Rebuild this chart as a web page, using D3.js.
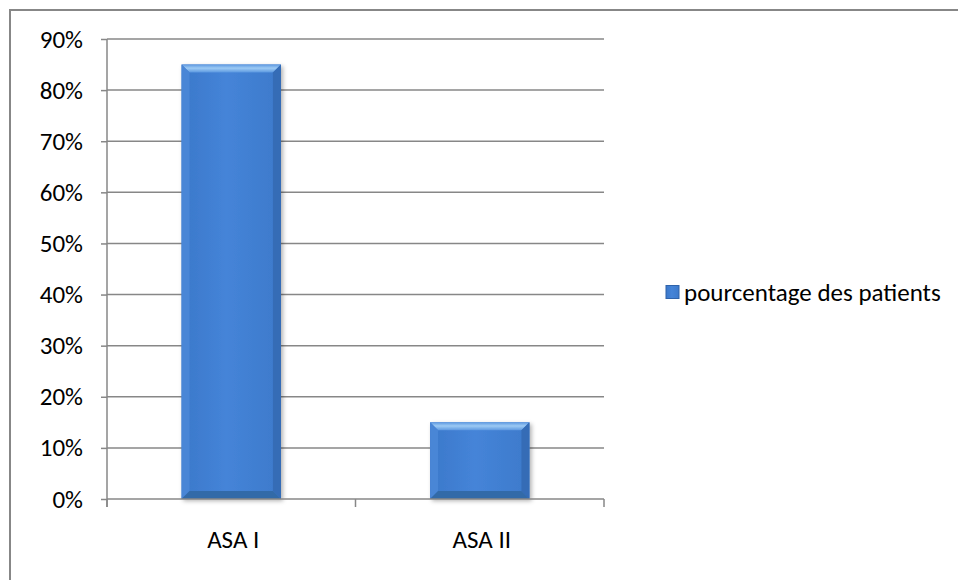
<!DOCTYPE html>
<html>
<head>
<meta charset="utf-8">
<script src="https://d3js.org/d3.v7.min.js"></script>
<style>
  body { margin: 0; background: #fff; }
  svg { display: block; font-family: Carlito, Calibri, "Open Sans", sans-serif; }
  .tick-label { font-size: 25px; fill: #000; font-family: Carlito, Calibri, "Open Sans", sans-serif; }
</style>
</head>
<body>
<svg id="chart" width="958" height="580"></svg>
<script>
  // data
  var categories = ["ASA I", "ASA II"];
  var values = [0.85, 0.15];
  var seriesName = "pourcentage des patients";
  var yTicks = [0, 0.1, 0.2, 0.3, 0.4, 0.5, 0.6, 0.7, 0.8, 0.9];

  var svg = d3.select("#chart");
  var plot = {left: 107, right: 604, top: 39, bottom: 499};
  var gridColor = "#878787";

  // outer chart border (right/bottom edges fall off the picture)
  svg.append("rect")
      .attr("x", 10).attr("y", 10)
      .attr("width", 960).attr("height", 600)
      .attr("fill", "none")
      .attr("stroke", "#878787")
      .attr("stroke-width", 2);

  var x = d3.scaleBand()
      .domain(categories)
      .range([plot.left, plot.right])
      .paddingInner(0.6)
      .paddingOuter(0.3);

  var y = d3.scaleLinear()
      .domain([0, 0.9])
      .range([plot.bottom, plot.top]);

  var fmt = d3.format(".0%");

  // gridlines
  svg.selectAll(".grid")
      .data(yTicks.filter(function(d) { return d > 0; }))
    .enter().append("line")
      .attr("class", "grid")
      .attr("x1", plot.left).attr("x2", plot.right)
      .attr("y1", function(d) { return y(d); })
      .attr("y2", function(d) { return y(d); })
      .attr("stroke", gridColor)
      .attr("stroke-width", 1.5);

  // y axis
  var yAxis = svg.append("g")
      .attr("transform", "translate(" + plot.left + ",0)")
      .call(d3.axisLeft(y).tickValues(yTicks).tickFormat(fmt).tickSize(6).tickPadding(18));
  yAxis.attr("font-family", null).attr("font-size", null);
  yAxis.select(".domain").attr("stroke", gridColor).attr("stroke-width", 1.5)
      .attr("d", "M0," + plot.top + "V" + (plot.bottom + 8));
  yAxis.selectAll(".tick line").attr("stroke", gridColor).attr("stroke-width", 1.5);
  yAxis.selectAll(".tick text").attr("class", "tick-label").attr("fill", "#000");

  // bar gradients
  var defs = svg.append("defs");
  var face = defs.append("linearGradient").attr("id", "face")
      .attr("x1", 0).attr("x2", 1).attr("y1", 0).attr("y2", 0);
  face.append("stop").attr("offset", "0%").attr("stop-color", "#3b78ca");
  face.append("stop").attr("offset", "45%").attr("stop-color", "#4584d8");
  face.append("stop").attr("offset", "100%").attr("stop-color", "#3d7acb");
  var topG = defs.append("linearGradient").attr("id", "topbev")
      .attr("x1", 0).attr("x2", 0).attr("y1", 0).attr("y2", 1);
  topG.append("stop").attr("offset", "0%").attr("stop-color", "#5d98e0");
  topG.append("stop").attr("offset", "45%").attr("stop-color", "#9ccaf4");
  topG.append("stop").attr("offset", "100%").attr("stop-color", "#5b97e0");
  var shadow = defs.append("filter").attr("id", "shadow")
      .attr("x", "-10%").attr("y", "-10%").attr("width", "130%").attr("height", "130%");
  shadow.append("feDropShadow").attr("dx", 2).attr("dy", 2).attr("stdDeviation", 2)
      .attr("flood-color", "#000").attr("flood-opacity", 0.3);

  var bev = 8;
  var bars = svg.selectAll(".bar")
      .data(categories.map(function(c, i) { return {cat: c, v: values[i]}; }))
    .enter().append("g")
      .attr("class", "bar")
      .attr("filter", "url(#shadow)");

  function pts(d) {
    var x0 = x(d.cat), x1 = x0 + x.bandwidth(), y0 = y(d.v), y1 = y(0);
    return {x0: x0, x1: x1, y0: y0, y1: y1};
  }

  bars.append("rect")
      .attr("x", function(d) { return pts(d).x0; })
      .attr("y", function(d) { return pts(d).y0; })
      .attr("width", x.bandwidth())
      .attr("height", function(d) { return pts(d).y1 - pts(d).y0; })
      .attr("fill", "url(#face)");

  // bevel edges: top, left, right, bottom
  var edges = [
    {fill: "url(#topbev)", f: function(p) { return [[p.x0, p.y0], [p.x1, p.y0], [p.x1 - bev, p.y0 + bev], [p.x0 + bev, p.y0 + bev]]; }},
    {fill: "#4a86d6", f: function(p) { return [[p.x0, p.y0], [p.x0 + bev, p.y0 + bev], [p.x0 + bev, p.y1 - bev], [p.x0, p.y1]]; }},
    {fill: "#346cb6", f: function(p) { return [[p.x1, p.y0], [p.x1, p.y1], [p.x1 - bev, p.y1 - bev], [p.x1 - bev, p.y0 + bev]]; }},
    {fill: "#336aa8", f: function(p) { return [[p.x0, p.y1], [p.x0 + bev, p.y1 - bev], [p.x1 - bev, p.y1 - bev], [p.x1, p.y1]]; }}
  ];
  edges.forEach(function(e) {
    bars.append("polygon")
        .attr("points", function(d) { return e.f(pts(d)).join(" "); })
        .attr("fill", e.fill);
  });

  // x axis
  svg.append("line")
      .attr("x1", plot.left).attr("x2", plot.right)
      .attr("y1", y(0)).attr("y2", y(0))
      .attr("stroke", gridColor).attr("stroke-width", 1.5);
  var bounds = d3.range(categories.length + 1).map(function(i) { return plot.left + i * x.step(); });
  svg.selectAll(".xtick")
      .data(bounds)
    .enter().append("line")
      .attr("x1", function(d) { return d; }).attr("x2", function(d) { return d; })
      .attr("y1", y(0)).attr("y2", y(0) + 8)
      .attr("stroke", gridColor).attr("stroke-width", 1.5);
  svg.selectAll(".xlabel")
      .data(categories)
    .enter().append("text")
      .attr("class", "tick-label")
      .attr("x", function(d) { return x(d) + x.bandwidth() / 2 + 2; })
      .attr("y", 548)
      .attr("text-anchor", "middle")
      .text(function(d) { return d; });

  // legend
  var lg = svg.append("g").attr("transform", "translate(666,292)");
  lg.append("rect")
      .attr("x", 0).attr("y", -6.5).attr("width", 13).attr("height", 13)
      .attr("fill", "url(#face)").attr("stroke", "#2f63aa").attr("stroke-width", 1);
  lg.append("text")
      .attr("class", "tick-label")
      .attr("x", 18).attr("y", 0).attr("dy", "0.35em")
      .text(seriesName);
</script>
</body>
</html>
